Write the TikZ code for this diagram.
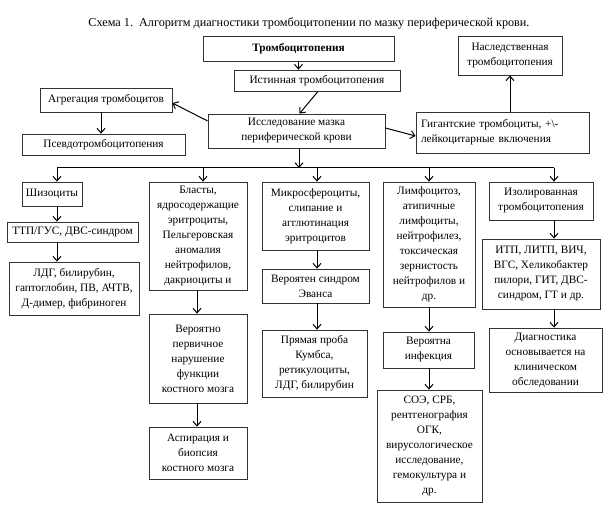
\documentclass[tikz,border=0pt]{standalone}
\usepackage{fontspec}
\setmainfont{Liberation Serif}
\usetikzlibrary{arrows.meta}
\begin{document}
\begin{tikzpicture}[x=1pt,y=-1pt,
  box/.style={draw=black!80, line width=0.8pt, inner sep=1pt, align=center,
    font={\fontsize{11.3}{15}\selectfont}},
  arr/.style={line width=1pt, -{Straight Barb[length=4.5pt,width=8pt,line width=1pt]}},
  ln/.style={line width=1pt}]
\useasboundingbox[fill=white] (0,0) rectangle (604,518);
\node[font={\fontsize{12.2}{14}\selectfont}] (title) at (309,23) {Схема 1.\ \ Алгоритм диагностики тромбоцитопении по мазку периферической крови.};
\node[box, minimum width=191, minimum height=25, font={\fontsize{11.3}{15}\selectfont\bfseries}] (trombo) at (298.5,48.5) {Тромбоцитопения};
\node[box, minimum width=166, minimum height=21] (istin) at (317,80.5) {Истинная тромбоцитопения};
\node[box, minimum width=104, minimum height=39] (nasl) at (510,55.5) {Наследственная\\тромбоцитопения};
\node[box, minimum width=132, minimum height=24] (agreg) at (106,100) {Агрегация тромбоцитов};
\node[box, minimum width=163, minimum height=21] (pseudo) at (103.5,144.5) {Псевдотромбоцитопения};
\node[box, minimum width=177, minimum height=34] (issl) at (296.5,131) {Исследование мазка\\периферической крови};
\node[box, minimum width=173, minimum height=41, align=left, text width=163] (gigant) at (502.5,132.5) {Гигантские тромбоциты, +\textbackslash-\\лейкоцитарные включения};
\node[box, minimum width=60, minimum height=24] (shiz) at (52,194) {Шизоциты};
\node[box, minimum width=131, minimum height=20] (ttp) at (72.5,232) {ТТП/ГУС, ДВС-синдром};
\node[box, minimum width=130, minimum height=53] (ldg) at (74,288.5) {ЛДГ, билирубин,\\гаптоглобин, ПВ, АЧТВ,\\Д-димер, фибриноген};
\node[box, minimum width=98, minimum height=108] (blast) at (198,236) {Бласты,\\ядросодержащие\\эритроциты,\\Пельгеровская\\аномалия\\нейтрофилов,\\дакриоциты и};
\node[box, minimum width=98, minimum height=89] (perv) at (198,358.5) {Вероятно\\первичное\\нарушение\\функции\\костного мозга};
\node[box, minimum width=98, minimum height=52] (aspir) at (198,453) {Аспирация и\\биопсия\\костного мозга};
\node[box, minimum width=107, minimum height=68] (micro) at (315.5,216) {Микросфероциты,\\слипание и\\агглютинация\\эритроцитов};
\node[box, minimum width=107, minimum height=34] (evans) at (315.5,286) {Вероятен синдром\\Эванса};
\node[box, minimum width=105, minimum height=67] (kumbs) at (314.5,363.5) {Прямая проба\\Кумбса,\\ретикулоциты,\\ЛДГ, билирубин};
\node[box, minimum width=92, minimum height=125] (limf) at (429,244.5) {Лимфоцитоз,\\атипичные\\лимфоциты,\\нейтрофилез,\\токсическая\\зернистость\\нейтрофилов и\\др.};
\node[box, minimum width=91, minimum height=36] (infek) at (428.5,350) {Вероятна\\инфекция};
\node[box, minimum width=105, minimum height=112] (soe) at (429.5,446) {СОЭ, СРБ,\\рентгенография\\ОГК,\\вирусологическое\\исследование,\\гемокультура и\\др.};
\node[box, minimum width=104, minimum height=38] (izol) at (541,201) {Изолированная\\тромбоцитопения};
\node[box, minimum width=118, minimum height=70] (itp) at (541,274) {ИТП, ЛИТП, ВИЧ,\\ВГС, Хеликобактер\\пилори, ГИТ, ДВС-\\синдром, ГТ и др.};
\node[box, minimum width=113, minimum height=64] (diag) at (545.5,360) {Диагностика\\основывается на\\клиническом\\обследовании};
% coordinates
\coordinate (c1) at (57,168);
\coordinate (c2) at (203,168);
\coordinate (c3) at (317,168);
\coordinate (c4) at (429,168);
\coordinate (c5) at (554,168);
\coordinate (cm) at (299,168);
\coordinate (d2) at (197,0);
\coordinate (ap) at (101,0);
% connectors
\draw[arr] (trombo.south) -- (istin.north -| trombo.south);
\draw[arr] ([xshift=1pt]istin.south) -- ([xshift=3pt]issl.north);
\draw[arr] ([yshift=10pt]issl.west) -- ([yshift=-3pt]agreg.east);
\draw[arr] (agreg.south -| ap) -- (pseudo.north -| ap);
\draw[arr] ([yshift=3pt]issl.east) -- ([yshift=-3.5pt]gigant.west);
\draw[arr] (gigant.north -| nasl.south) -- (nasl.south);
\draw[arr] (issl.south -| cm) -- (cm);
\draw[ln] (c1) -- (c5);
\draw[arr] (c1) -- (shiz.north -| c1);
\draw[arr] (c2) -- (blast.north -| c2);
\draw[arr] (c3) -- (micro.north -| c3);
\draw[arr] (c4) -- (limf.north -| c4);
\draw[arr] (c5) -- (izol.north -| c5);
\draw[arr] (shiz.south -| c1) -- (ttp.north -| c1);
\draw[arr] (ttp.south -| c1) -- (ldg.north -| c1);
\draw[arr] (blast.south -| d2) -- (perv.north -| d2);
\draw[arr] (perv.south -| d2) -- (aspir.north -| d2);
\draw[arr] (micro.south -| c3) -- (evans.north -| c3);
\draw[arr] (evans.south -| c3) -- (kumbs.north -| c3);
\draw[arr] (limf.south -| c4) -- (infek.north -| c4);
\draw[arr] (infek.south -| c4) -- (soe.north -| c4);
\draw[arr] (izol.south -| c5) -- (itp.north -| c5);
\draw[arr] (itp.south -| c5) -- (diag.north -| c5);
\end{tikzpicture}
\end{document}
